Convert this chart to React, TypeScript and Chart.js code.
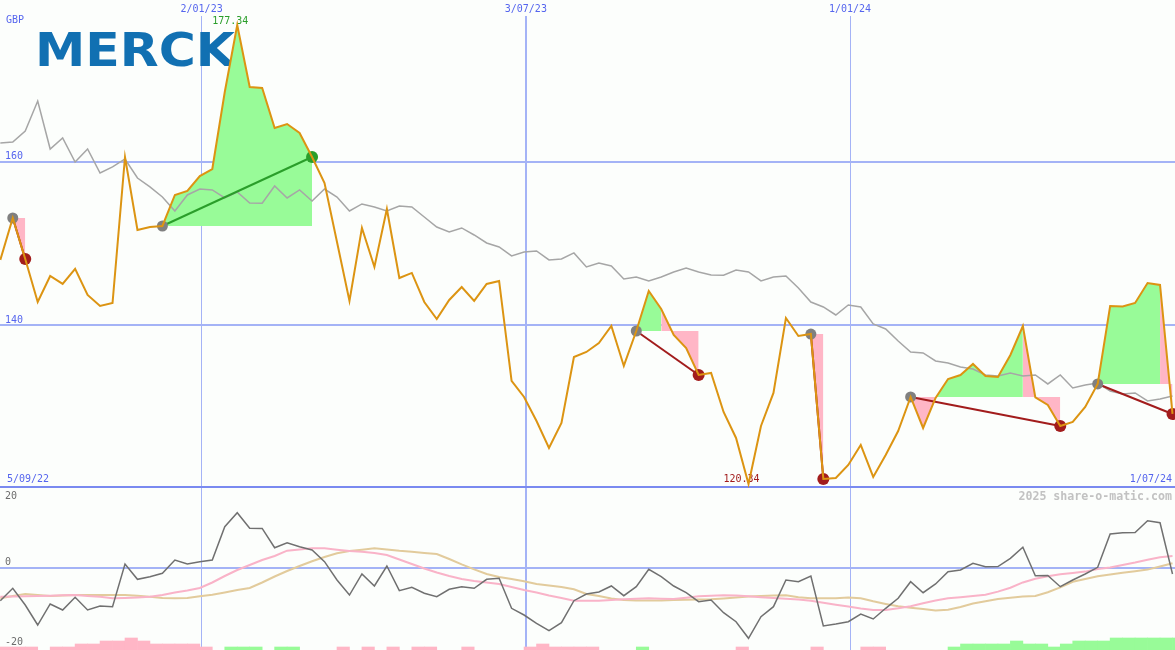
import React, { useEffect, useRef } from "react";
import { Chart, registerables } from "chart.js";

Chart.register(...registerables);

// ---------------- data ----------------
const START_DATE = "2022-09-11"; // week index 0
const START_LABEL = "5/09/22";
const END_LABEL = "1/07/24";
const CURRENCY = "GBP";
const LOGO_TEXT = "MERCK";
const WATERMARK = "2025 share-o-matic.com";

const gridDates = ["2023-01-02", "2023-07-03", "2024-01-01"];
const gridLabels = ["2/01/23", "3/07/23", "1/01/24"];
const priceGridValues = [160, 140];
const oscLabelValues = [20, 0, -20];

// weekly close, GBP
const price = [
  147.96, 153.1, 148.08, 142.81, 146.0, 145.02, 146.86, 143.67, 142.32, 142.69,
  160.57, 151.63, 152.0, 152.12, 155.92, 156.41, 158.24, 159.1, 168.53, 176.74,
  169.14, 169.02, 164.12, 164.61, 163.51, 160.57, 157.39, 150.16, 142.94, 151.88,
  147.1, 154.2, 145.75, 146.37, 142.81, 140.73, 143.06, 144.65, 142.94, 145.02,
  145.39, 133.14, 131.18, 128.24, 124.93, 127.99, 136.08, 136.69, 137.79, 139.87,
  134.98, 139.26, 144.16, 141.96, 138.77, 137.18, 133.87, 134.12, 129.34, 126.16,
  120.52, 127.63, 131.67, 140.85, 138.65, 138.89, 121.14, 121.26, 122.85, 125.3,
  121.38, 124.08, 127.01, 131.18, 127.38, 131.06, 133.38, 133.87, 135.22, 133.75,
  133.63, 136.32, 139.87, 131.12, 130.2, 127.63, 128.12, 129.95, 132.77, 142.32,
  142.25, 142.69, 145.14, 144.9, 129.1,
];

// relative-strength comparison line
const relative = [
  162.29, 162.41, 163.76, 167.43, 161.55, 162.9, 159.96, 161.55, 158.61, 159.35,
  160.33, 158.0, 156.9, 155.67, 153.96, 155.92, 156.65, 156.53, 155.55, 156.29,
  154.94, 154.9, 157.02, 155.55, 156.53, 155.18, 156.65, 155.67, 153.96, 154.82,
  154.45, 153.96, 154.57, 154.45, 153.22, 152.0, 151.39, 151.88, 151.02, 150.04,
  149.55, 148.45, 148.94, 149.06, 147.96, 148.08, 148.82, 147.1, 147.59, 147.22,
  145.63, 145.88, 145.39, 145.88, 146.49, 146.98, 146.49, 146.12, 146.1, 146.73,
  146.49, 145.39, 145.88, 146.0, 144.53, 142.81, 142.2, 141.22, 142.45, 142.2,
  140.12, 139.51, 138.04, 136.69, 136.57, 135.59, 135.34, 134.85, 134.61, 133.87,
  133.75, 134.12, 133.75, 133.87, 132.77, 133.87, 132.28, 132.65, 132.89, 131.91,
  131.55, 131.67, 130.69, 130.93, 131.3,
];

// trades: entry / exit week index
const tradeEntry = [1, 13, 51, 65, 73, 88];
const tradeExit = [2, 25, 56, 66, 85, 94];

// oscillator panel
const osc = [
  -8.96, -5.56, -10.14, -15.62, -9.86, -11.51, -8.03, -11.51, -10.41, -10.6,
  1.1, -3.1, -2.38, -1.45, 2.19, 1.1, 1.73, 2.19, 11.32, 15.15,
  10.88, 10.85, 5.56, 6.93, 5.84, 4.93, 1.73, -3.29, -7.4, -1.64,
  -4.93, 0.55, -6.22, -5.29, -6.93, -7.86, -5.84, -5.12, -5.56, -3.1,
  -2.82, -11.04, -12.88, -15.15, -17.18, -14.99, -8.96, -7.12, -6.58, -4.93,
  -7.59, -5.12, -0.36, -2.38, -4.93, -6.77, -9.23, -8.77, -12.25, -14.71,
  -19.26, -13.34, -10.6, -3.29, -3.75, -2.19, -15.89, -15.34, -14.71, -12.6,
  -13.97, -11.04, -8.3, -3.75, -6.77, -4.38, -1.01, -0.55, 1.29, 0.36,
  0.4, 2.66, 5.67, -2.11, -2.05, -5.12, -3.29, -1.64, 0.19, 9.32,
  9.67, 9.7, 12.96, 12.41, -1.64,
];
const oscFast = [
  -7.86, -7.81, -7.75, -7.67, -7.59, -7.48, -7.4, -7.67, -7.86, -8.3,
  -8.22, -8.08, -7.89, -7.4, -6.71, -6.16, -5.48, -3.97, -2.19, -0.55,
  0.82, 2.19, 3.29, 4.74, 5.07, 5.4, 5.4, 5.01, 4.66, 4.47,
  4.11, 3.56, 2.33, 1.1, -0.14, -1.23, -2.19, -3.01, -3.56, -3.97,
  -4.38, -5.21, -6.03, -6.71, -7.53, -8.22, -8.96, -8.96, -8.96, -8.77,
  -8.58, -8.44, -8.3, -8.41, -8.49, -8.14, -7.75, -7.59, -7.45, -7.53,
  -7.75, -8.0, -8.22, -8.44, -8.66, -8.99, -9.51, -10.05, -10.55, -11.07,
  -11.51, -11.51, -11.04, -10.49, -9.67, -8.9, -8.3, -8.0, -7.67, -7.32,
  -6.47, -5.42, -3.95, -2.93, -2.25, -1.73, -1.37, -0.99, -0.27, 0.14,
  0.82, 1.48, 2.25, 2.96, 3.29,
];
const oscSlow = [
  -8.3, -7.67, -7.12, -7.4, -7.67, -7.53, -7.4, -7.4, -7.4, -7.4,
  -7.4, -7.62, -7.89, -8.22, -8.3, -8.22, -7.75, -7.32, -6.71, -6.03,
  -5.48, -3.97, -2.33, -0.82, 0.55, 1.84, 3.01, 4.03, 4.66, 5.01,
  5.4, 5.07, 4.71, 4.44, 4.11, 3.84, 2.47, 1.01, -0.36, -1.64,
  -2.47, -3.01, -3.64, -4.38, -4.77, -5.21, -5.84, -7.12, -7.67, -8.36,
  -8.77, -8.88, -8.93, -8.93, -8.77, -8.71, -8.63, -8.58, -8.36, -8.08,
  -7.84, -7.67, -7.51, -7.48, -8.03, -8.3, -8.3, -8.27, -8.11, -8.3,
  -9.12, -9.84, -10.49, -10.9, -11.23, -11.67, -11.42, -10.68, -9.75, -9.12,
  -8.49, -8.16, -7.84, -7.67, -6.63, -5.29, -3.78, -3.01, -2.27, -1.78,
  -1.32, -0.9, -0.44, 0.41, 1.29,
];
// trend strength bars (+ up / - down)
const trendBars = [
  -1, -1, -1, 0, -1, -1, -2, -2, -3, -3,
  -4, -3, -2, -2, -2, -2, -1, 0, 1, 1,
  1, 0, 1, 1, 0, 0, 0, -1, 0, -1,
  0, -1, 0, -1, -1, 0, 0, -1, 0, 0,
  0, 0, -1, -2, -1, -1, -1, -1, 0, 0,
  0, 1, 0, 0, 0, 0, 0, 0, 0, -1,
  0, 0, 0, 0, 0, -1, 0, 0, 0, -1,
  -1, 0, 0, 0, 0, 0, 1, 2, 2, 2,
  2, 3, 2, 2, 1, 2, 3, 3, 3, 4,
  4, 4, 4, 4, 4,
];

// ---------------- styles ----------------
const W = 1175;
const TOP_H = 488;
const BOT_H = 162;
const BG = "#fcfefc";
const GRID = "#a4b3f6";
const SEP = "#7a8af0";
const AXIS_TEXT = "#5565ee";
const OSC_TEXT = "#6c6c6c";
const ORANGE = "#dc9412";
const REL_GREY = "#a6a6a6";
const FILL_GREEN = "#98fb98";
const FILL_PINK = "#ffb6c6";
const WIN_GREEN = "#2a9e2a";
const LOSS_RED = "#a21c1c";
const ENTRY_GREY = "#808080";
const LOGO_COLOR = "#1170b2";
const gridLineWidths = [1, 2, 1];
const MONO = "'DejaVu Sans Mono', monospace";

const X_MIN = -0.024;
const X_MAX = 94.2;
const Y_MIN = 120.03;
const Y_MAX = 179.8;
const OSC_MIN = -22.466;
const OSC_MAX = 21.918;

const DAY = 24 * 3600 * 1000;
const weekIndex = (d: string) =>
  (Date.parse(d + "T00:00:00Z") - Date.parse(START_DATE + "T00:00:00Z")) / (7 * DAY);

const pts = (arr: number[]) => arr.map((v, i) => ({ x: i, y: v }));

function label(ctx: CanvasRenderingContext2D, s: string, x: number, y: number, color: string, font: string, align: CanvasTextAlign = "left") {
  ctx.save();
  ctx.fillStyle = color;
  ctx.font = font;
  ctx.textAlign = align;
  ctx.textBaseline = "middle";
  ctx.fillText(s, x, y);
  ctx.restore();
}

function drawVerticalGrid(chart: any, fromY: number) {
  const { ctx, scales, height } = chart;
  ctx.save();
  ctx.fillStyle = GRID;
  gridDates.forEach((d, k) => {
    const px = scales.x.getPixelForValue(weekIndex(d));
    const lw = gridLineWidths[k];
    ctx.fillRect(Math.round(px - lw / 2), fromY, lw, height - fromY);
  });
  ctx.restore();
}

const topDecor = {
  id: "topDecor",
  beforeDraw(chart: any) {
    const { ctx, width, height } = chart;
    ctx.save();
    ctx.fillStyle = BG;
    ctx.fillRect(0, 0, width, height);
    ctx.restore();
  },
  beforeDatasetsDraw(chart: any) {
    const { ctx, scales, width, height } = chart;
    const { x, y } = scales;
    ctx.save();
    ctx.fillStyle = GRID;
    priceGridValues.forEach((v) => {
      const py = y.getPixelForValue(v);
      ctx.fillRect(0, Math.round(py) - 1, width, 2);
    });
    ctx.restore();
    drawVerticalGrid(chart, 16);
    ctx.save();
    ctx.fillStyle = SEP;
    ctx.fillRect(0, height - 2, width, 2);
    ctx.restore();

    // logo
    ctx.save();
    ctx.font = "bold 46px 'DejaVu Sans', sans-serif";
    const m = ctx.measureText(LOGO_TEXT).width;
    ctx.translate(35, 66);
    ctx.scale(200 / m, 1);
    ctx.fillStyle = LOGO_COLOR;
    ctx.textBaseline = "alphabetic";
    ctx.fillText(LOGO_TEXT, 0, 0);
    ctx.restore();

    const f = `10px ${MONO}`;
    label(ctx, CURRENCY, 6, 20, AXIS_TEXT, f);
    priceGridValues.forEach((v) => label(ctx, String(v), 5, y.getPixelForValue(v) - 5, AXIS_TEXT, f));
    gridDates.forEach((d, k) => label(ctx, gridLabels[k], x.getPixelForValue(weekIndex(d)), 9, AXIS_TEXT, f, "center"));
    label(ctx, START_LABEL, 7, height - 9, AXIS_TEXT, f);
    label(ctx, END_LABEL, width - 3, height - 9, AXIS_TEXT, f, "right");

    // extreme labels
    let hi = 0, lo = 0;
    price.forEach((v, i) => {
      if (v > price[hi]) hi = i;
      if (v < price[lo]) lo = i;
    });
    label(ctx, "177.34", x.getPixelForValue(hi) - 7, y.getPixelForValue(price[hi]) - 4, WIN_GREEN, f, "center");
    label(ctx, "120.34", x.getPixelForValue(lo) - 7, y.getPixelForValue(price[lo]) - 5, LOSS_RED, f, "center");
  },
};

const botDecor = {
  id: "botDecor",
  beforeDraw(chart: any) {
    const { ctx, width, height } = chart;
    ctx.save();
    ctx.fillStyle = BG;
    ctx.fillRect(0, 0, width, height);
    ctx.restore();
  },
  beforeDatasetsDraw(chart: any) {
    const { ctx, scales, width } = chart;
    const y = scales.y;
    drawVerticalGrid(chart, 0);
    ctx.save();
    ctx.fillStyle = GRID;
    ctx.fillRect(0, Math.round(y.getPixelForValue(0)) - 1, width, 2);
    ctx.restore();
    const f = `10px ${MONO}`;
    oscLabelValues.forEach((v) => {
      const py = v === 0 ? y.getPixelForValue(0) - 6 : y.getPixelForValue(v) + (v > 0 ? 1 : 1.5);
      label(ctx, String(v), 5, py, OSC_TEXT, f);
    });
    label(ctx, WATERMARK, width - 3, 9, "#c2c2c2", `bold 11.6px ${MONO}`, "right");
  },
};

const baseOptions = {
  responsive: false,
  animation: false,
  devicePixelRatio: 1,
  layout: { padding: 0, autoPadding: false },
  plugins: { legend: { display: false }, tooltip: { enabled: false } },
  events: [],
};

function topConfig(): any {
  const datasets: any[] = [];
  // trade fills
  tradeEntry.forEach((e, t) => {
    const x = tradeExit[t];
    const entryPrice = price[e];
    const data: { x: number; y: number }[] = [];
    for (let i = e; i <= x; i++) data.push({ x: i, y: price[i] });
    datasets.push({
      type: "line",
      data,
      borderWidth: 0,
      borderColor: "rgba(0,0,0,0)",
      pointRadius: 0,
      backgroundColor: FILL_GREEN,
      fill: { target: { value: entryPrice } },
      segment: {
        backgroundColor: (c: any) => (data[c.p1DataIndex].y >= entryPrice ? FILL_GREEN : FILL_PINK),
      },
      order: 20,
    });
  });
  datasets.push({
    type: "line",
    data: pts(relative),
    borderColor: REL_GREY,
    borderWidth: 1.5,
    pointRadius: 0,
    fill: false,
    order: 10,
  });
  tradeEntry.forEach((e, t) => {
    const x = tradeExit[t];
    const win = price[x] >= price[e];
    const c = win ? WIN_GREEN : LOSS_RED;
    datasets.push({
      type: "line",
      data: [
        { x: e, y: price[e] },
        { x, y: price[x] },
      ],
      borderColor: c,
      borderWidth: 2,
      pointRadius: [5.5, 6],
      pointBackgroundColor: [ENTRY_GREY, c],
      pointBorderWidth: 0,
      fill: false,
      order: 5,
    });
  });
  datasets.push({
    type: "line",
    data: pts(price),
    borderColor: ORANGE,
    borderWidth: 2,
    pointRadius: 0,
    fill: false,
    order: 0,
  });
  return {
    type: "line",
    data: { datasets },
    options: {
      ...baseOptions,
      elements: { line: { tension: 0 } },
      scales: {
        x: { type: "linear", min: X_MIN, max: X_MAX, display: false, offset: false },
        y: { type: "linear", min: Y_MIN, max: Y_MAX, display: false },
      },
    },
    plugins: [topDecor],
  };
}

function botConfig(): any {
  const barData: any[] = [];
  const barColors: string[] = [];
  trendBars.forEach((v, i) => {
    if (v === 0) return;
    barData.push({ x: i + 0.5, y: Math.abs(v) });
    barColors.push(v > 0 ? FILL_GREEN : FILL_PINK);
  });
  return {
    type: "line",
    data: {
      datasets: [
        {
          type: "bar",
          data: barData,
          yAxisID: "yv",
          backgroundColor: barColors,
          borderWidth: 0,
          barPercentage: 1,
          categoryPercentage: 1,
          order: 20,
        },
        { type: "line", data: pts(oscSlow), borderColor: "#e2cb9c", borderWidth: 2, pointRadius: 0, fill: false, order: 6 },
        { type: "line", data: pts(oscFast), borderColor: "#f9b3c8", borderWidth: 2, pointRadius: 0, fill: false, order: 5 },
        { type: "line", data: pts(osc), borderColor: "#707070", borderWidth: 1.5, pointRadius: 0, fill: false, order: 0 },
      ],
    },
    options: {
      ...baseOptions,
      elements: { line: { tension: 0 } },
      scales: {
        x: { type: "linear", min: X_MIN, max: X_MAX, display: false, offset: false },
        y: { type: "linear", min: OSC_MIN, max: OSC_MAX, display: false },
        yv: { type: "linear", min: 0, max: 54, display: false },
      },
    },
    plugins: [botDecor],
  };
}

export default function App() {
  const topRef = useRef<HTMLCanvasElement>(null);
  const botRef = useRef<HTMLCanvasElement>(null);
  useEffect(() => {
    document.body.style.margin = "0";
    const top = new Chart(topRef.current as HTMLCanvasElement, topConfig());
    const bot = new Chart(botRef.current as HTMLCanvasElement, botConfig());
    return () => {
      top.destroy();
      bot.destroy();
    };
  }, []);
  return (
    <div style={{ position: "absolute", left: 0, top: 0, width: W, height: TOP_H + BOT_H, background: BG }}>
      <canvas ref={topRef} width={W} height={TOP_H} style={{ display: "block", width: W, height: TOP_H }} />
      <canvas ref={botRef} width={W} height={BOT_H} style={{ display: "block", width: W, height: BOT_H }} />
    </div>
  );
}
